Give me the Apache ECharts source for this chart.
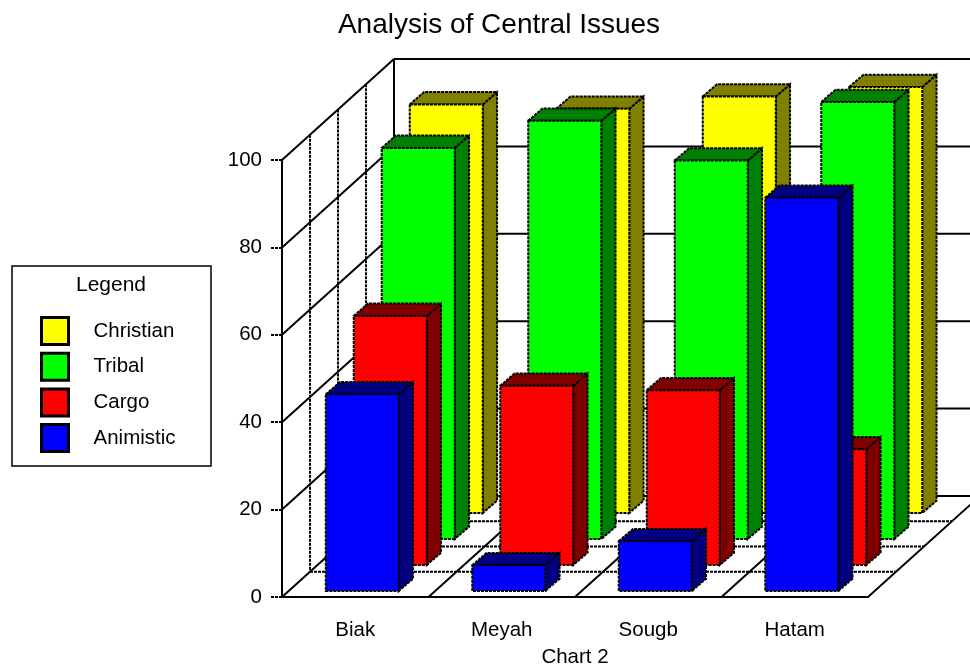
<!DOCTYPE html>
<html>
<head>
<meta charset="utf-8">
<title>Analysis of Central Issues</title>
<script src="https://cdn.jsdelivr.net/npm/echarts@6/dist/echarts.min.js"></script>
<style>
html,body{margin:0;padding:0;background:#fff;}
#pic0{width:970px;height:667px;}
</style>
</head>
<body>
<div id="pic0"></div>
<script>
// values
var categories = ['Biak', 'Meyah', 'Sougb', 'Hatam'];
var seriesNames = ['Christian', 'Tribal', 'Cargo', 'Animistic'];
var christian = [93.5, 92.5, 95.3, 97.5];
var tribal = [89.5, 95.7, 86.6, 100];
var cargo = [57, 41, 40, 26.5];
var animistic = [45, 5.9, 11.4, 90];
var yTicks = [0, 20, 40, 60, 80, 100];

var fontName = '"Liberation Sans", Arial, sans-serif';
var dash = [3, 1];

// pseudo 3d: pixels shifted per depth slot
var wallDx = 28, wallDy = 25.25;
var barDx = 28, barDy = 26;
var barFrontDx = 7, barFrontDy = 6;
var barWidth = 73, sideDx = 14.3, sideDy = 12.3;
var slots = 4;

function line(x1, y1, x2, y2, dashed) {
    return {
        type: 'line',
        shape: {x1: x1, y1: y1, x2: x2, y2: y2},
        style: {stroke: '#000', lineWidth: 2, lineDash: dashed ? dash : null, fill: null}
    };
}

// walls and floor behind the bars
function renderFrame(params, api) {
    var o = api.coord([0, 0]);
    var catW = api.size([1, 0])[0];
    var x0 = o[0] - catW / 2;
    var x1 = x0 + catW * categories.length;
    var y0 = o[1];
    var backDx = wallDx * slots, backDy = wallDy * slots;
    var kids = [];
    var k, i;
    // back wall and left wall grid
    yTicks.forEach(function (t) {
        var y = api.coord([0, t])[1];
        kids.push(line(x0, y, x0 + backDx, y - backDy));
        kids.push(line(x0 + backDx, y - backDy, x1 + backDx, y - backDy));
    });
    kids.push(line(x0 + backDx, api.coord([0, 100])[1] - backDy, x0 + backDx, y0 - backDy));
    var yTop = api.coord([0, 100])[1];
    for (k = 1; k < slots; k++) {
        kids.push(line(x0 + wallDx * k, yTop - wallDy * k, x0 + wallDx * k, y0 - wallDy * k, true));
        kids.push(line(x0 + wallDx * k, y0 - wallDy * k, x1 + wallDx * k, y0 - wallDy * k, true));
    }
    // floor lines running to the back
    for (i = 1; i <= categories.length; i++) {
        var fx = x0 + catW * i;
        kids.push(line(fx, y0, fx + backDx, y0 - backDy));
    }
    return {type: 'group', children: kids};
}

// slot 0 is the front row
function barRenderer(slot, faceColor, darkColor) {
    return function (params, api) {
        var top = api.coord([api.value(0), api.value(1)]);
        var bottom = api.coord([api.value(0), 0]);
        var sx = barFrontDx + barDx * slot;
        var sy = barFrontDy + barDy * slot;
        var l = top[0] + sx - barWidth / 2;
        var r = l + barWidth;
        var t = top[1] - sy;
        var b = bottom[1] - sy;
        function face(points, color) {
            return {
                type: 'polygon',
                shape: {points: points},
                style: {fill: color, stroke: '#000', lineWidth: 2, lineDash: [3, 1]}
            };
        }
        return {
            type: 'group',
            children: [
                face([[r, t], [r + sideDx, t - sideDy], [r + sideDx, b - sideDy], [r, b]], darkColor),
                face([[l, t], [l + sideDx, t - sideDy], [r + sideDx, t - sideDy], [r, t]], darkColor),
                face([[l, t], [r, t], [r, b], [l, b]], faceColor)
            ]
        };
    };
}

function barSeries(name, values, slot, faceColor, darkColor) {
    return {
        name: name,
        type: 'custom',
        coordinateSystem: 'cartesian2d',
        clip: false,
        itemStyle: {color: faceColor},
        encode: {x: 0, y: 1},
        renderItem: barRenderer(slot, faceColor, darkColor),
        data: values.map(function (v, i) { return [i, v]; })
    };
}

var myChart = echarts.init(document.getElementById('pic0'));

var option = {
    animation: false,
    backgroundColor: '#fff',
    textStyle: {fontFamily: fontName, color: '#000'},
    title: {
        text: 'Analysis of Central Issues',
        left: 494,
        top: 6,
        textAlign: 'center',
        textStyle: {fontFamily: fontName, fontSize: 28, fontWeight: 'normal', color: '#000'}
    },
    grid: {left: 282, top: 160, width: 586, height: 437, outerBoundsMode: 'none'},
    xAxis: {
        type: 'category',
        data: categories,
        name: 'Chart 2',
        nameLocation: 'middle',
        nameGap: 50,
        nameTextStyle: {fontFamily: fontName, fontSize: 20.5, color: '#000'},
        axisLine: {lineStyle: {color: '#000', width: 2}},
        axisTick: {alignWithLabel: true, length: 15, lineStyle: {color: '#000', width: 2, type: dash}},
        axisLabel: {fontFamily: fontName, fontSize: 20.5, color: '#000', margin: 23},
        splitLine: {show: false}
    },
    yAxis: {
        type: 'value',
        min: 0,
        max: 100,
        interval: 20,
        axisLine: {show: true, lineStyle: {color: '#000', width: 2}},
        axisTick: {show: true, length: 11, lineStyle: {color: '#000', width: 2, type: dash}},
        axisLabel: {fontFamily: fontName, fontSize: 20.5, color: '#000', margin: 20},
        splitLine: {show: false}
    },
    legend: {
        orient: 'vertical',
        left: 40,
        top: 316,
        padding: 0,
        itemWidth: 27,
        itemHeight: 27,
        itemGap: 5.7,
        icon: 'rect',
        data: seriesNames,
        selectedMode: false,
        itemStyle: {borderColor: '#000', borderWidth: 3},
        textStyle: {fontFamily: fontName, fontSize: 20.5, color: '#000', padding: [0, 0, 5, 20]}
    },
    graphic: [
        {
            type: 'rect',
            z: -1,
            shape: {x: 12, y: 266, width: 199, height: 200},
            style: {fill: '#fff', stroke: '#000', lineWidth: 1.5}
        },
        {
            type: 'text',
            x: 111,
            y: 285,
            style: {
                text: 'Legend',
                fill: '#000',
                font: '21px ' + fontName,
                textAlign: 'center',
                textVerticalAlign: 'middle'
            }
        }
    ],
    series: [
        {
            name: 'frame',
            type: 'custom',
            coordinateSystem: 'cartesian2d',
            clip: false,
            encode: {x: 0, y: 1},
            renderItem: renderFrame,
            data: [[0, 0]]
        },
        barSeries(seriesNames[0], christian, 3, '#ffff00', '#808000'),
        barSeries(seriesNames[1], tribal, 2, '#00ff00', '#008000'),
        barSeries(seriesNames[2], cargo, 1, '#ff0000', '#800000'),
        barSeries(seriesNames[3], animistic, 0, '#0000ff', '#000080')
    ]
};

myChart.setOption(option);
</script>
</body>
</html>
